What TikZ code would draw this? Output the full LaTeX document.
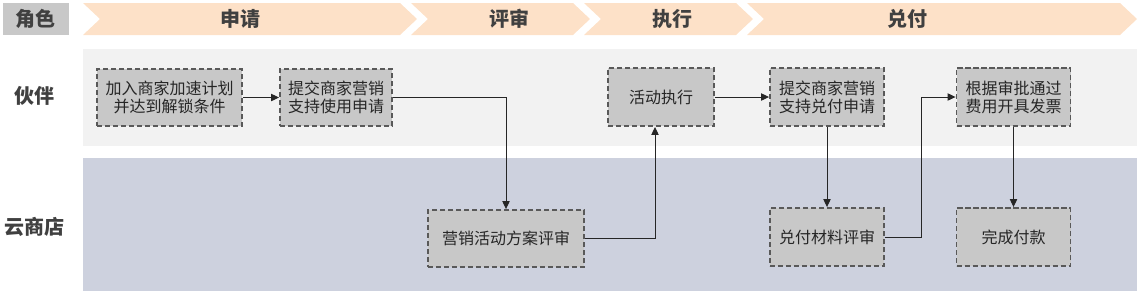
\documentclass[tikz,border=0pt]{standalone}
\usepackage{fontspec}
\setmainfont{Noto Sans CJK SC}
\usepackage{xcolor}
\usetikzlibrary{arrows.meta,positioning}

\definecolor{hdrgray}{HTML}{C8C8C8}
\definecolor{hdrtxt}{HTML}{404040}
\definecolor{phasebg}{HTML}{FDE1C8}
\definecolor{laneone}{HTML}{F2F2F2}
\definecolor{lanetwo}{HTML}{CDD1DE}
\definecolor{taskfill}{HTML}{C8C8C8}
\definecolor{taskline}{HTML}{595959}

\begin{document}
\begin{tikzpicture}[x=0.75pt, y=-0.75pt,
  phasetxt/.style={font=\fontsize{15}{17}\selectfont\bfseries, text=hdrtxt},
  lanetxt/.style={font=\fontsize{15}{17}\selectfont\bfseries, text=hdrtxt},
  task/.style={draw=taskline, fill=taskfill, line width=1.4pt, dash pattern=on 4pt off 2pt,
    inner sep=0pt, align=center, text=black!85, font=\fontsize{12}{13.5}\selectfont},
  flow/.style={-{Triangle[length=6pt,width=5.5pt]}, line width=0.7pt, draw=black!85}]
  \useasboundingbox (0,0) rectangle (1143,298);

  % header row
  \fill[hdrgray] (3,3) rectangle (69,35);
  \node[phasetxt] (role) at (36,19) {角色};
  \fill[phasebg] (83,3) -- (400,3) -- (417,19) -- (400,35) -- (83,35) -- (100,19) -- cycle;
  \fill[phasebg] (411,3) -- (573,3) -- (590,19) -- (573,35) -- (411,35) -- (428,19) -- cycle;
  \fill[phasebg] (584,3) -- (736,3) -- (753,19) -- (736,35) -- (584,35) -- (601,19) -- cycle;
  \fill[phasebg] (747,3) -- (1120,3) -- (1137,19) -- (1120,35) -- (747,35) -- (764,19) -- cycle;
  \node[phasetxt] (apply) at (240,19) {申请};
  \node[phasetxt] (review) at (509,19) {评审};
  \node[phasetxt] (run) at (672,19) {执行};
  \node[phasetxt] (pay) at (907,19) {兑付};

  % swim lanes
  \fill[laneone] (83,49) rectangle (1137,146);
  \fill[lanetwo] (83,158) rectangle (1137,291);
  \node[lanetxt] (partner) at (35,96) {伙伴};
  \node[lanetxt] (store) at (35,227) {云商店};

  % tasks
  \node[task, minimum width=108.75pt, minimum height=42.75pt] (join) at (169.5,97.5) {加入商家加速计划\\并达到解锁条件};
  \node[task, minimum width=84pt, minimum height=42.75pt] (submit) at (336,97.5) {提交商家营销\\支持使用申请};
  \node[task, minimum width=117pt, minimum height=42.75pt] (plan) at (506,238.5) {营销活动方案评审};
  \node[task, minimum width=79.5pt, minimum height=43.5pt] (exec) at (661,97) {活动执行};
  \node[task, minimum width=85.5pt, minimum height=43.5pt] (claim) at (827,97) {提交商家营销\\支持兑付申请};
  \node[task, minimum width=85.5pt, minimum height=43.5pt] (check) at (827,237) {兑付材料评审};
  \node[task, minimum width=85.5pt, minimum height=43.5pt] (invoice) at (1013.5,97) {根据审批通过\\费用开具发票};
  \node[task, minimum width=85.5pt, minimum height=43.5pt] (paid) at (1013.5,237) {完成付款};

  % connectors
  \draw[flow] (join) -- (submit);
  \draw[flow] (submit.east) -| (plan.north);
  \draw[flow] (plan.east) -| ([xshift=-4.5pt]exec.south);
  \draw[flow] (exec) -- (claim);
  \draw[flow] (claim) -- (check);
  \draw[flow] (check.east) -- ++(37,0) |- (invoice.west);
  \draw[flow] (invoice) -- (paid);
\end{tikzpicture}
\end{document}
